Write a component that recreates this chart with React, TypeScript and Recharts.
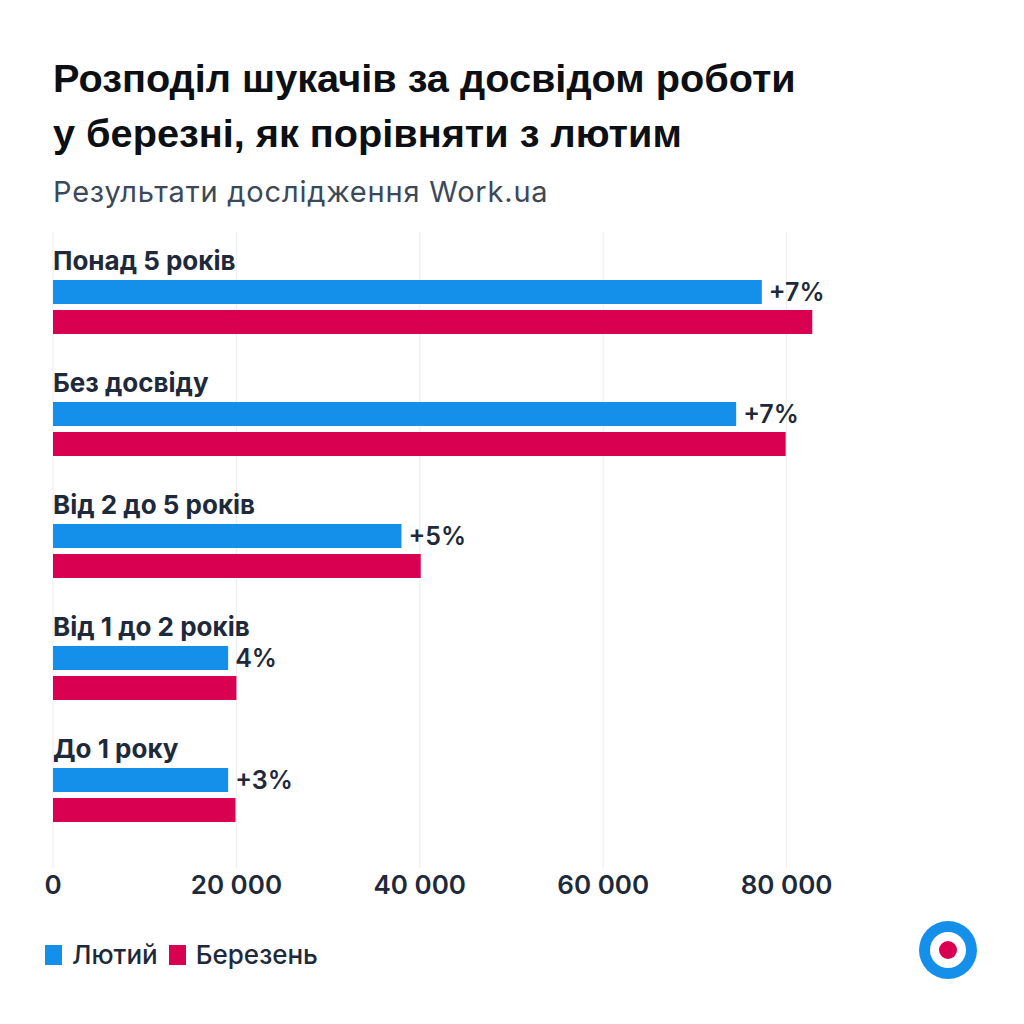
import { Bar, BarChart, CartesianGrid, LabelList, XAxis, YAxis } from "recharts";

const CATEGORIES = ["Понад 5 років", "Без досвіду", "Від 2 до 5 років", "Від 1 до 2 років", "До 1 року"];
const FEBRUARY = [77300, 74500, 38000, 19100, 19100];
const MARCH = [82800, 79900, 40100, 20000, 19900];
const CHANGE = ["+7%", "+7%", "+5%", "4%", "+3%"];
const X_TICKS = [0, 20000, 40000, 60000, 80000];

const BLUE = "#148fea";
const RED = "#d90052";
const INK = "#1e2a3b";
const FONT = "Inter, 'Noto Sans', sans-serif";

const rows = CATEGORIES.map((name, i) => ({
  name,
  feb: FEBRUARY[i],
  mar: MARCH[i],
  change: CHANGE[i],
}));

const fmt = (v: number) => v.toLocaleString("en-US").replace(/,/g, " ");

function CategoryTick(props: any) {
  const { x, y, payload } = props;
  return (
    <text x={x} y={y - 46} dy="0.36em" textAnchor="start" fontFamily={FONT} fontSize={26} fontWeight={700} fill={INK}>
      {payload.value}
    </text>
  );
}

function ValueTick(props: any) {
  const { x, y, payload } = props;
  return (
    <text x={x} y={y} dy={18} textAnchor="middle" fontFamily={FONT} fontSize={26} fontWeight={600} fill={INK}>
      {fmt(payload.value)}
    </text>
  );
}

export default function App() {
  return (
    <div style={{ position: "absolute", left: 0, top: 0, width: 1024, height: 1024, background: "#fff", fontFamily: FONT }}>
      <div
        style={{
          position: "absolute",
          left: 53,
          top: 51,
          fontFamily: "'Liberation Sans', Arial, sans-serif",
          fontSize: 39.7,
          fontWeight: 700,
          lineHeight: "55px",
          color: "#0c0f14",
          whiteSpace: "nowrap",
        }}
      >
        Розподіл шукачів за досвідом роботи
        <br />у березні, як порівняти з лютим
      </div>
      <div style={{ position: "absolute", left: 53, top: 174, fontSize: 29, letterSpacing: 0.8, color: "#3b4859", whiteSpace: "nowrap" }}>
        Результати дослідження Work.ua
      </div>

      <div style={{ position: "absolute", left: 0, top: 0 }}>
        <BarChart
          width={1024}
          height={920}
          data={rows}
          layout="vertical"
          margin={{ top: 232, right: 54, left: 52, bottom: 0 }}
          barSize={24}
          barGap={6}
        >
          <CartesianGrid horizontal={false} stroke="#ececee" syncWithTicks />
          <XAxis
            type="number"
            domain={[0, 100000]}
            ticks={X_TICKS}
            axisLine={false}
            tickLine={false}
            height={52}
            tick={<ValueTick />}
            interval={0}
          />
          <YAxis
            type="category"
            dataKey="name"
            width={1}
            axisLine={false}
            tickLine={false}
            tickMargin={0}
            tickSize={0}
            interval={0}
            padding={{ top: 14, bottom: 12 }}
            tick={<CategoryTick />}
          />
          <Bar dataKey="feb" name="Лютий" fill={BLUE} isAnimationActive={false}>
            <LabelList
              dataKey="change"
              position="right"
              offset={7}
              fontFamily={FONT}
              fontSize={25}
              fontWeight={600}
              fill={INK}
            />
          </Bar>
          <Bar dataKey="mar" name="Березень" fill={RED} isAnimationActive={false} />
        </BarChart>
      </div>

      <div style={{ position: "absolute", left: 45, top: 939, display: "flex", alignItems: "center", fontSize: 26, fontWeight: 500, color: INK }}>
        <span style={{ width: 17, height: 20, background: BLUE, marginRight: 10 }} />
        <span style={{ marginRight: 11 }}>Лютий</span>
        <span style={{ width: 17, height: 20, background: RED, marginRight: 10 }} />
        <span>Березень</span>
      </div>

      <svg style={{ position: "absolute", left: 918, top: 920 }} width={60} height={60}>
        <circle cx={30} cy={30} r={29} fill={BLUE} />
        <circle cx={30} cy={30} r={18} fill="#fff" />
        <circle cx={30} cy={30} r={9} fill={RED} />
      </svg>
    </div>
  );
}
